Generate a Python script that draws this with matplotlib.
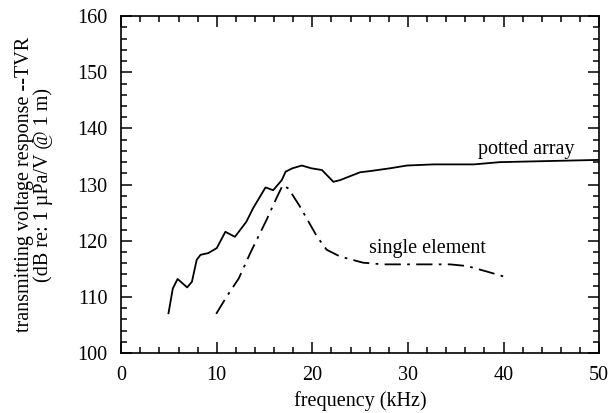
import matplotlib
matplotlib.use("Agg")
import matplotlib.pyplot as plt
from matplotlib.ticker import MultipleLocator

plt.rcParams['font.family'] = ['Liberation Serif', 'DejaVu Serif']

# potted array (solid)
potted_f = [4.95, 5.4, 5.9, 6.9, 7.4, 7.9, 8.3, 9.1, 10.0, 10.9, 11.9, 13.1, 13.8,
            15.1, 15.9, 16.8, 17.2, 17.9, 18.9, 19.9, 21.0, 22.2, 22.9, 25.0, 26.0,
            28.1, 29.9, 32.7, 36.9, 39.6, 50.0]
potted_tvr = [107.1, 111.5, 113.2, 111.7, 112.7, 116.6, 117.5, 117.8, 118.7, 121.6,
              120.7, 123.4, 125.8, 129.5, 129.0, 130.8, 132.3, 132.9, 133.4, 132.9,
              132.6, 130.5, 130.8, 132.2, 132.4, 132.9, 133.4, 133.6, 133.6, 134.0, 134.4]

# single element (dash-dot)
single_f = [9.94, 11.05, 12.3, 13.5, 15.2, 16.3, 16.9, 17.5, 18.7, 20.5, 21.5, 22.9,
            25.3, 27.4, 34.4, 36.2, 38.3, 40.1]
single_tvr = [107.0, 110.1, 113.3, 117.8, 123.7, 127.8, 129.9, 129.3, 126.1, 120.7,
              118.4, 117.2, 116.1, 115.8, 115.8, 115.5, 114.5, 113.6]

fig = plt.figure(figsize=(6.12, 4.13), dpi=100)
ax = fig.add_axes([0.198, 0.145, 0.781, 0.816])

ax.plot(potted_f, potted_tvr, color='black', lw=1.3)
ax.plot(single_f, single_tvr, color='black', lw=1.3, dashes=(9, 3.5, 1.5, 3.5))

ax.text(42.4, 136.2, "potted array", fontsize=14.5, ha='center', va='center')
ax.text(32.0, 118.6, "single element", fontsize=14.5, ha='center', va='center')

ax.set_xlim(0, 50)
ax.set_ylim(100, 160)
ax.xaxis.set_major_locator(MultipleLocator(10))
ax.xaxis.set_minor_locator(MultipleLocator(2))
ax.yaxis.set_major_locator(MultipleLocator(10))
ax.yaxis.set_minor_locator(MultipleLocator(2))
ax.tick_params(which='both', direction='in', top=True, right=True, labelsize=14.5, width=1.1)
ax.tick_params(which='major', length=8)
ax.tick_params(which='minor', length=4)
ax.tick_params(axis='x', which='major', pad=9)
ax.tick_params(axis='y', which='major', pad=10)
for s in ax.spines.values():
    s.set_linewidth(1.2)

ax.set_xlabel("frequency (kHz)", fontsize=14.5, labelpad=5)
ax.set_ylabel("transmitting voltage response --TVR\n(dB re: 1 µPa/V @ 1 m)", fontsize=14.5,
              linespacing=1.0)
ax.yaxis.set_label_coords(-0.142, 0.5)

fig.savefig("out.png", dpi=100)
